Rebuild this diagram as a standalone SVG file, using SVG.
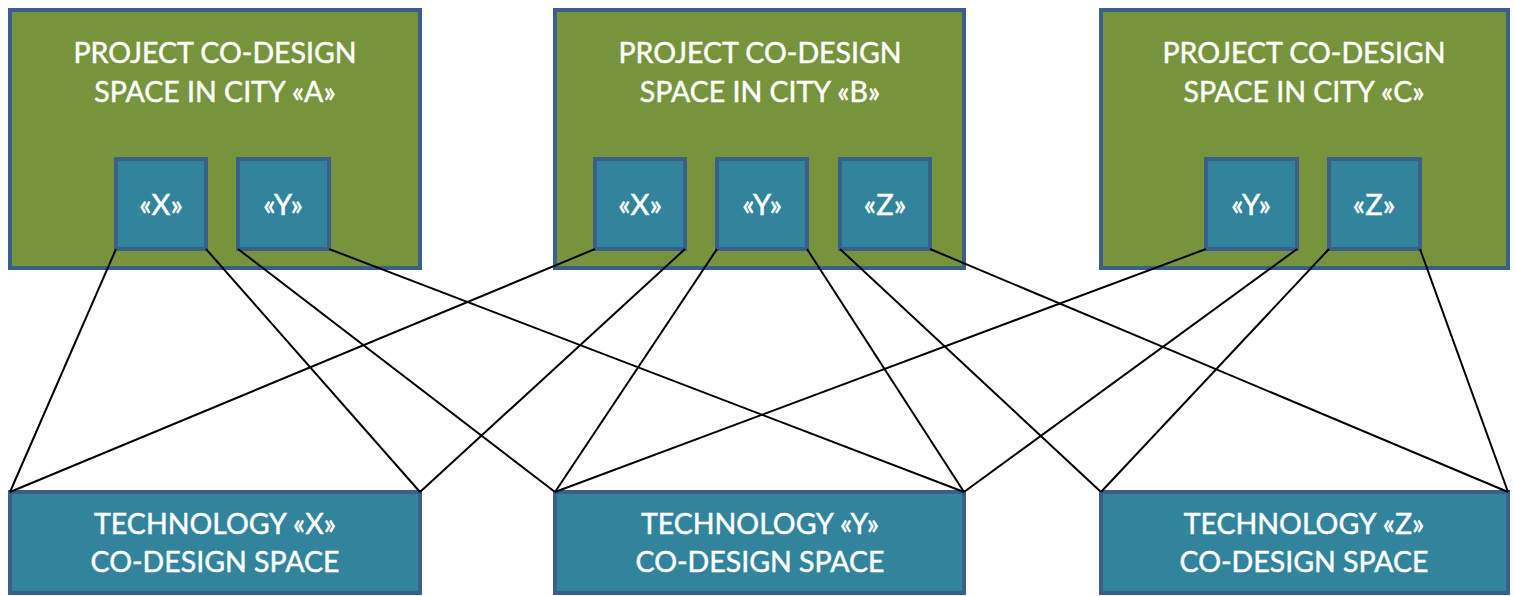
<svg xmlns="http://www.w3.org/2000/svg" width="1515" height="596" viewBox="0 0 1515 596">
<style>
.city{fill:#77933c;stroke:#3a5f8b;stroke-width:4}
.tech{fill:#31849b;stroke:#3a5f8b;stroke-width:4}
.sub{fill:#31849b;stroke:#3a5f8b;stroke-width:4}
text{font-family:Lato,"Open Sans","Liberation Sans",sans-serif;fill:#ffffff;stroke:#ffffff;stroke-width:0.5;text-anchor:middle}
.big{font-size:28.5px}
.small{font-size:29px}
.conn line{stroke:#000000;stroke-width:2}
</style>
<rect width="1515" height="596" fill="#ffffff"/>
<g id="cityA">
<rect class="city" x="10" y="10" width="410" height="258"/>
<text class="big" x="215" y="63">PROJECT CO-DESIGN</text>
<text class="big" x="215" y="102">SPACE IN CITY «A»</text>
</g>
<g id="cityA-X"><rect class="sub" x="116" y="159" width="90" height="90"/><text class="small" x="161" y="215">«X»</text></g>
<g id="cityA-Y"><rect class="sub" x="238" y="159" width="91" height="90"/><text class="small" x="283" y="215">«Y»</text></g>
<g id="cityB">
<rect class="city" x="555" y="10" width="409" height="258"/>
<text class="big" x="760" y="63">PROJECT CO-DESIGN</text>
<text class="big" x="760" y="102">SPACE IN CITY «B»</text>
</g>
<g id="cityB-X"><rect class="sub" x="595" y="159" width="90" height="90"/><text class="small" x="640" y="215">«X»</text></g>
<g id="cityB-Y"><rect class="sub" x="717" y="159" width="90" height="90"/><text class="small" x="762" y="215">«Y»</text></g>
<g id="cityB-Z"><rect class="sub" x="840" y="159" width="90" height="90"/><text class="small" x="885" y="215">«Z»</text></g>
<g id="cityC">
<rect class="city" x="1101" y="10" width="407" height="258"/>
<text class="big" x="1304" y="63">PROJECT CO-DESIGN</text>
<text class="big" x="1304" y="102">SPACE IN CITY «C»</text>
</g>
<g id="cityC-Y"><rect class="sub" x="1206" y="159" width="91" height="90"/><text class="small" x="1251" y="215">«Y»</text></g>
<g id="cityC-Z"><rect class="sub" x="1329" y="159" width="91" height="90"/><text class="small" x="1374" y="215">«Z»</text></g>
<g id="techX">
<rect class="tech" x="10" y="492" width="410" height="101"/>
<text class="big" x="215" y="534">TECHNOLOGY «X»</text>
<text class="big" x="215" y="572">CO-DESIGN SPACE</text>
</g>
<g id="techY">
<rect class="tech" x="555" y="492" width="409" height="101"/>
<text class="big" x="760" y="534">TECHNOLOGY «Y»</text>
<text class="big" x="760" y="572">CO-DESIGN SPACE</text>
</g>
<g id="techZ">
<rect class="tech" x="1101" y="492" width="407" height="101"/>
<text class="big" x="1304" y="534">TECHNOLOGY «Z»</text>
<text class="big" x="1304" y="572">CO-DESIGN SPACE</text>
</g>
<g id="connectors" class="conn">
<line x1="116" y1="249" x2="10" y2="492"/>
<line x1="206" y1="249" x2="420" y2="492"/>
<line x1="238" y1="249" x2="555" y2="492"/>
<line x1="329" y1="249" x2="964" y2="492"/>
<line x1="595" y1="249" x2="10" y2="492"/>
<line x1="685" y1="249" x2="420" y2="492"/>
<line x1="717" y1="249" x2="555" y2="492"/>
<line x1="807" y1="249" x2="964" y2="492"/>
<line x1="840" y1="249" x2="1101" y2="492"/>
<line x1="930" y1="249" x2="1508" y2="492"/>
<line x1="1206" y1="249" x2="555" y2="492"/>
<line x1="1297" y1="249" x2="964" y2="492"/>
<line x1="1329" y1="249" x2="1101" y2="492"/>
<line x1="1420" y1="249" x2="1508" y2="492"/>
</g>
</svg>
